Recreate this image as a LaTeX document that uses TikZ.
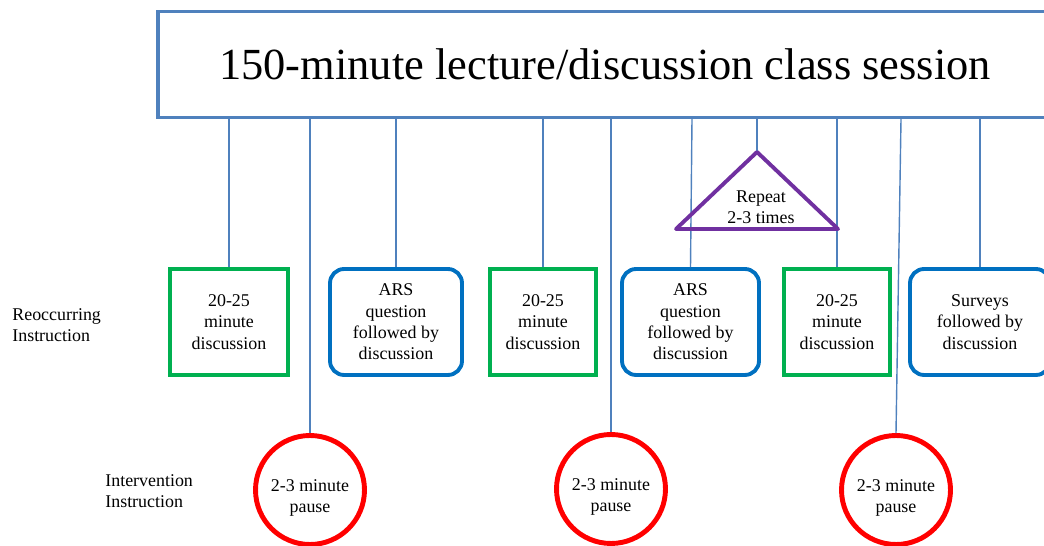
\documentclass[tikz,border=0pt]{standalone}
\usepackage{fontspec}
\setmainfont{Liberation Serif}
\usepackage{xcolor}
\usetikzlibrary{positioning,calc}

\definecolor{lineblue}{HTML}{4F81BD}
\definecolor{discgreen}{HTML}{00B050}
\definecolor{arsblue}{HTML}{0070C0}
\definecolor{pausered}{HTML}{FF0000}
\definecolor{repeatpurple}{HTML}{7030A0}

\newcommand{\smalltxt}{\fontsize{10.2}{12.2}\selectfont}

\begin{document}
\begin{tikzpicture}[
    x=0.02cm, y=-0.02cm,
    titlebox/.style={
        rectangle, draw=lineblue, line width=2pt,
        minimum width=17.88cm,
        minimum height=2.12cm,
        font=\fontsize{25.3}{30}\selectfont
    },
    discbox/.style={
        rectangle, draw=discgreen, line width=2.2pt,
        minimum width=2.12cm,
        minimum height=2.12cm,
        align=center,
        font=\smalltxt
    },
    arsbox/.style={
        rectangle, draw=arsblue, line width=2.2pt,
        rounded corners=8pt,
        minimum width=2.7cm,
        minimum height=2.12cm,
        align=center,
        font=\smalltxt
    },
    pausenode/.style={
        circle, draw=pausered, line width=2.8pt,
        minimum size=2.18cm,
        inner sep=0pt
    },
    pauselbl/.style={yshift=-0.16cm, align=center, font=\smalltxt},
    rowlbl/.style={anchor=west, align=left, inner sep=0pt, font=\smalltxt},
    conn/.style={draw=lineblue, line width=0.8pt},
]
\clip (0,0) rectangle (1044,546);

\node[titlebox] (title) at (605,64.5) {150-minute lecture/discussion class session};

% reoccurring row
\node[discbox, minimum width=2.36cm] (g1) at (229,322) {20-25\\minute\\discussion};
\node[arsbox, minimum width=2.64cm] (b1) at (396,322) {ARS\\question\\followed by\\discussion};
\node[discbox] (g2) at (543,322) {20-25\\minute\\discussion};
\node[arsbox, minimum width=2.74cm] (b2) at (690.5,322) {ARS\\question\\followed by\\discussion};
\node[discbox] (g3) at (837,322) {20-25\\minute\\discussion};
\node[arsbox, minimum width=2.8cm] (b3) at (980,322) {Surveys\\followed by\\discussion};

% intervention row
\node[pausenode, label={[pauselbl]center:2-3 minute\\pause}] (c1) at (310,490) {};
\node[pausenode, label={[pauselbl]center:2-3 minute\\pause}] (c2) at (611,489) {};
\node[pausenode, label={[pauselbl]center:2-3 minute\\pause}] (c3) at (896,490) {};

% row labels
\node[rowlbl] (reo) at (12,325) {Reoccurring\\Instruction};
\node[rowlbl] (inv) at (105,491) {Intervention\\Instruction};

% repeat marker
\coordinate (rpt) at (757,152);
\coordinate (rptl) at (676,229);
\coordinate (rptr) at (838,229);
\node[font=\smalltxt, align=center] (rpttxt) at (761,207) {Repeat\\2-3 times};

% connectors
\draw[conn] (title.south -| g1.north) -- (g1.north);
\draw[conn] (title.south -| c1.north) -- (c1.north);
\draw[conn] (title.south -| b1.north) -- (b1.north);
\draw[conn] (title.south -| g2.north) -- (g2.north);
\draw[conn] (title.south -| c2.north) -- (c2.north);
\draw[conn] ([xshift=0.03cm]title.south -| b2.north) -- (b2.north);
\draw[conn] (title.south -| rpt) -- (rpt);
\draw[conn] (title.south -| g3.north) -- (g3.north);
\draw[conn] ([xshift=0.1cm]title.south -| c3.north) -- (c3.north);
\draw[conn] (title.south -| b3.north) -- (b3.north);

\draw[repeatpurple, line width=2.2pt, line join=round] (rpt) -- (rptl) -- (rptr) -- cycle;

\end{tikzpicture}
\end{document}
